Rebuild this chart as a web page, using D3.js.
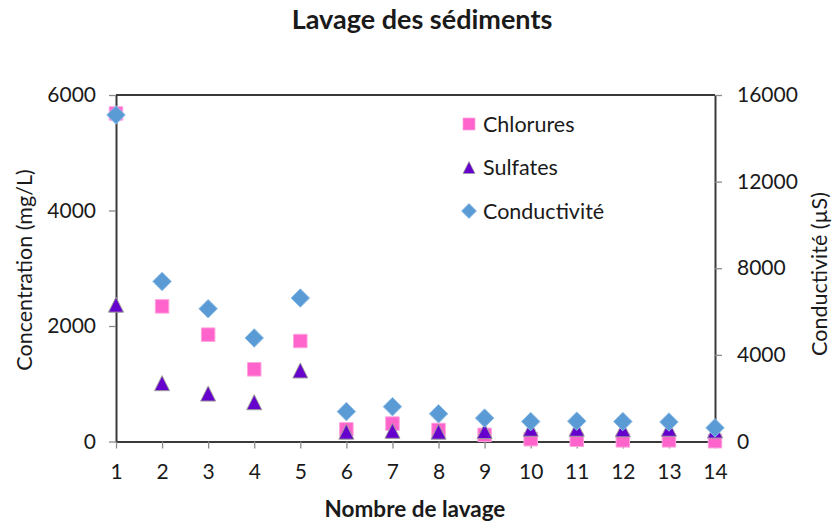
<!DOCTYPE html>
<html>
<head>
<meta charset="utf-8">
<script src="https://cdn.jsdelivr.net/npm/d3@7"></script>
<style>
  html, body { margin: 0; padding: 0; background: #fff; }
  svg text { font-family: Lato, "Open Sans", sans-serif; fill: #1a1a1a; }
</style>
</head>
<body>
<svg id="chart" width="832" height="525"></svg>
<script>
// Washing cycles
const lavages = [1, 2, 3, 4, 5, 6, 7, 8, 9, 10, 11, 12, 13, 14];
// Concentrations (mg/L)
const chlorures = [5680, 2340, 1850, 1250, 1740, 210, 310, 200, 115, 40, 30, 20, 20, 5];
const sulfates = [2370, 1010, 830, 680, 1230, 170, 185, 170, 180, 220, 220, 210, 220, 190];
// Conductivity (µS)
const conductivite = [15080, 7390, 6130, 4780, 6625, 1380, 1610, 1280, 1080, 920, 940, 920, 900, 630];

const leftTicks = [0, 2000, 4000, 6000];
const rightTicks = [0, 4000, 8000, 12000, 16000];

const svg = d3.select("#chart");
const plotLeft = 116, plotRight = 715, plotTop = 95, plotBottom = 441.5;

const x = d3.scaleLinear().domain([1, 14]).range([plotLeft, plotRight]);
const yL = d3.scaleLinear().domain([0, 6000]).range([plotBottom, plotTop]);
const yR = d3.scaleLinear().domain([0, 16000]).range([plotBottom, plotTop]);

const axisColor = "#3a3a3a";
const tickColor = "#8c8c8c";

// Title
svg.append("text").attr("x", 422).attr("y", 29).attr("text-anchor", "middle")
  .style("font-size", "27px").style("font-weight", "bold").text("Lavage des sédiments");

// Top frame line
svg.append("line").attr("x1", plotLeft).attr("x2", plotRight).attr("y1", plotTop).attr("y2", plotTop)
  .attr("stroke", axisColor).attr("stroke-width", 2);

// Axes
const gx = svg.append("g").attr("transform", `translate(0,${plotBottom})`)
  .call(d3.axisBottom(x).tickValues(lavages).tickFormat(d3.format("d")).tickSizeInner(7).tickSizeOuter(0).tickPadding(16));
const gl = svg.append("g").attr("transform", `translate(${plotLeft},0)`)
  .call(d3.axisLeft(yL).tickValues(leftTicks).tickFormat(d3.format("d")).tickSizeInner(7).tickSizeOuter(0).tickPadding(13));
const gr = svg.append("g").attr("transform", `translate(${plotRight},0)`)
  .call(d3.axisRight(yR).tickValues(rightTicks).tickFormat(d3.format("d")).tickSizeInner(7).tickSizeOuter(0).tickPadding(15));

[gx, gl, gr].forEach(g => {
  g.select(".domain").attr("stroke", axisColor).attr("stroke-width", 2);
  g.selectAll(".tick line").attr("stroke", tickColor).attr("stroke-width", 1.3);
  g.selectAll(".tick text").style("font-size", "21px").attr("fill", "#1a1a1a")
    .style("font-family", "Lato, 'Open Sans', sans-serif");
});

// Axis titles
svg.append("text").attr("transform", "translate(32,270) rotate(-90)").attr("text-anchor", "middle")
  .style("font-size", "21.5px").text("Concentration (mg/L)");
svg.append("text").attr("transform", "translate(827,274) rotate(-90)").attr("text-anchor", "middle")
  .style("font-size", "21.5px").text("Conductivité (µS)");
svg.append("text").attr("x", 415).attr("y", 517).attr("text-anchor", "middle")
  .style("font-size", "22.5px").style("font-weight", "bold").text("Nombre de lavage");

// Marker shapes centred on their bounding box
const squarePath = s => `M${-s/2},${-s/2}h${s}v${s}h${-s}Z`;
const trianglePath = w => `M0,${-w/2}L${w/2},${w/2}L${-w/2},${w/2}Z`;
const diamondPath = w => `M0,${-w/2}L${w/2},0L0,${w/2}L${-w/2},0Z`;

const series = [
  { name: "Chlorures", values: chlorures, y: yL, color: "#FF63CC", stroke: "#FFA3DD", path: squarePath(13.5), legend: squarePath(12) },
  { name: "Sulfates", values: sulfates, y: yL, color: "#6600CC", stroke: "#9c9c9c", path: trianglePath(15), legend: trianglePath(12) },
  { name: "Conductivité", values: conductivite, y: yR, color: "#5B9BD5", stroke: "#8DBDE6", path: diamondPath(18.5), legend: diamondPath(15) }
];

series.forEach(s => {
  svg.append("g").selectAll("path").data(lavages).join("path")
    .attr("d", s.path)
    .attr("transform", (d, i) => `translate(${x(d)},${s.y(s.values[i])})`)
    .attr("fill", s.color).attr("stroke", s.stroke).attr("stroke-width", 1);
});

// Legend
const legend = svg.append("g");
series.forEach((s, i) => {
  const cy = 124 + i * 43.5;
  legend.append("path").attr("d", s.legend).attr("transform", `translate(469,${cy})`)
    .attr("fill", s.color).attr("stroke", s.stroke).attr("stroke-width", 0.8);
  legend.append("text").attr("x", 483).attr("y", cy + 7.5).style("font-size", "21.5px").text(s.name);
});
</script>
</body>
</html>
